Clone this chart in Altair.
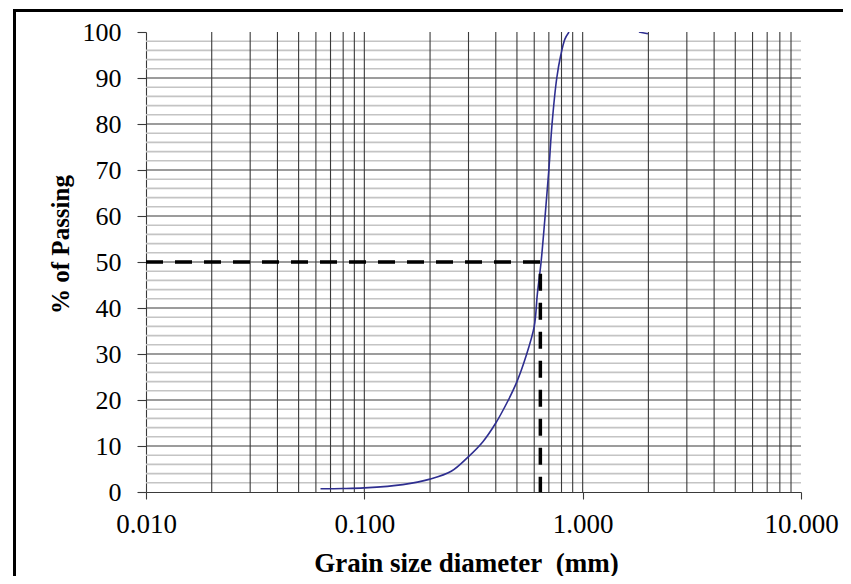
import altair as alt
import pandas as pd

# ---- data ----
grain_mm = [0.063, 0.08, 0.1, 0.15, 0.2, 0.25, 0.3, 0.35, 0.4, 0.45, 0.5, 0.55,
            0.6, 0.62, 0.645, 0.673, 0.70, 0.724, 0.761, 0.794, 0.83, 0.866]
passing_pct = [0.7, 0.75, 0.9, 1.6, 2.8, 4.5, 7.7, 11.0, 15.0, 19.4, 24.0, 29.5,
               36.0, 43.0, 50.0, 60.0, 70.0, 80.0, 90.0, 95.0, 98.5, 100.0]
tail_mm = [1.81, 1.99]
tail_pct = [100.0, 99.6]

d50_mm = [0.01, 0.64, 0.64]
d50_pct = [50, 50, 0]

x_tick_values = [0.01, 0.1, 1, 10]
x_grid_values = [0.02, 0.03, 0.04, 0.05, 0.06, 0.07, 0.08, 0.09,
                 0.1, 0.2, 0.3, 0.4, 0.5, 0.6, 0.7, 0.8, 0.9,
                 1, 2, 3, 4, 5, 6, 7, 8, 9]
y_tick_values = [0, 10, 20, 30, 40, 50, 60, 70, 80, 90, 100]
y_major_grid = [10, 20, 30, 40, 50, 60, 70, 80, 90]
y_minor_grid = [2, 4, 6, 8, 12, 14, 16, 18, 22, 24, 26, 28, 32, 34, 36, 38,
                42, 44, 46, 48, 52, 54, 56, 58, 62, 64, 66, 68, 72, 74, 76, 78,
                82, 84, 86, 88, 92, 94, 96, 98]

# ---- tables ----
curve = pd.DataFrame({
    "d": grain_mm + tail_mm,
    "p": passing_pct + tail_pct,
    "seg": ["main"] * len(grain_mm) + ["tail"] * len(tail_mm),
})
d50 = pd.DataFrame({"d": d50_mm, "p": d50_pct, "o": list(range(len(d50_mm)))})
xgrid = pd.DataFrame({"d": x_grid_values})
ymaj = pd.DataFrame({"p": y_major_grid})
ymin = pd.DataFrame({"p": y_minor_grid})

FONT = "Liberation Serif"
xscale = alt.Scale(type="log", domain=[0.01, 10], nice=False)
yscale = alt.Scale(domain=[0, 100], nice=False)

xaxis = alt.Axis(values=x_tick_values, format=".3f", grid=False,
                 title="Grain size diameter\u00a0 (mm)",
                 tickSize=7, labelPadding=12, labelFontSize=27,
                 labelFlush=False, labelOverlap=False, titleFontSize=27,
                 titleX=320, titleY=79, titleBaseline="alphabetic")
yaxis = alt.Axis(values=y_tick_values, grid=False, title="% of Passing",
                 tickSize=9, labelPadding=16, labelFontSize=26,
                 labelFlush=False, labelOverlap=False, titleFontSize=25,
                 titleX=-86, titleY=212, titleBaseline="middle")

X = alt.X("d:Q", scale=xscale, axis=xaxis)
Y = alt.Y("p:Q", scale=yscale, axis=yaxis)

minor_h = alt.Chart(ymin).mark_rule(color="#c4c4c4", strokeWidth=1.6).encode(y=Y)
vert = alt.Chart(xgrid).mark_rule(color="#3a3a3a", strokeWidth=1.1).encode(x=X)
major_h = alt.Chart(ymaj).mark_rule(color="#3a3a3a", strokeWidth=1.1).encode(y=Y)

line = alt.Chart(curve).mark_line(color="#2e2e90", strokeWidth=1.6, clip=True,
                                  interpolate="catmull-rom").encode(
    x=X, y=Y, detail="seg:N",
)

dash = alt.Chart(d50).mark_line(color="black", strokeWidth=3.5,
                                strokeDash=[17, 12]).encode(
    x=X, y=Y, order="o:Q",
)

frame_top = alt.Chart(d50).mark_rule(color="black", strokeWidth=3, clip=False).encode(
    x=alt.value(-131.5), x2=alt.value(697), y=alt.value(-21.5)
)
frame_left = alt.Chart(d50).mark_rule(color="black", strokeWidth=3, clip=False).encode(
    x=alt.value(-131.5), y=alt.value(-23), y2=alt.value(560)
)

chart = alt.layer(minor_h, vert, major_h, line, dash, frame_top, frame_left).properties(
    width=655,
    height=460,
    autosize=alt.AutoSizeParams(type="none"),
    padding={"left": 138, "top": 24, "right": 42, "bottom": 84},
).configure_view(strokeWidth=0).configure_axis(
    domainColor="#3a3a3a", domainWidth=1.1,
    tickColor="#3a3a3a", tickWidth=1.1,
    labelFont=FONT, labelColor="black",
    titleFont=FONT, titleFontWeight="bold", titleColor="black",
)

chart.save("out.html", embed_options={"renderer": "svg", "actions": False})
